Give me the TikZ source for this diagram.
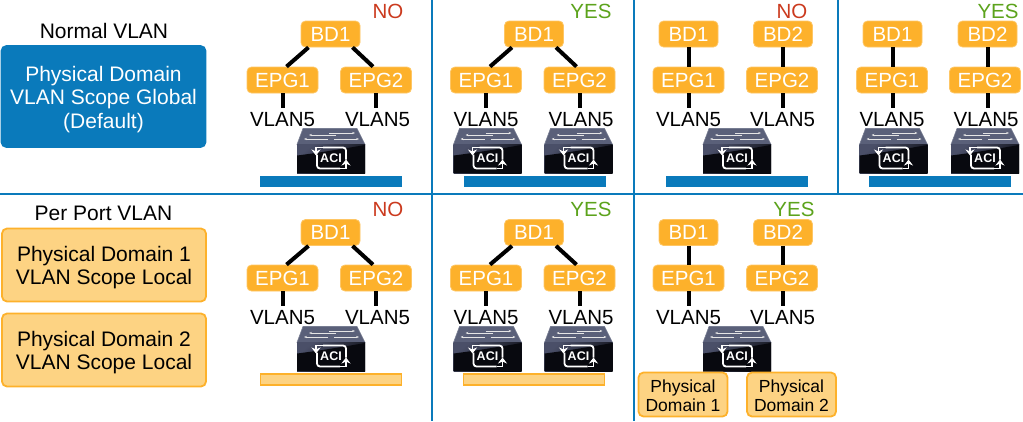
\documentclass[tikz,border=0pt]{standalone}
\usepackage{fontspec}
\setmainfont{Liberation Sans}
\usetikzlibrary{arrows.meta}
\definecolor{ciscoblue}{HTML}{0A7ABB}
\definecolor{epgorange}{HTML}{FDB12B}
\definecolor{epgedge}{HTML}{FEC665}
\definecolor{domfill}{HTML}{FDD383}
\definecolor{noRed}{HTML}{CB3A1E}
\definecolor{yesGreen}{HTML}{5CA31C}
\definecolor{swTop}{HTML}{5A6079}
\definecolor{swTopEdge}{HTML}{777D92}
\definecolor{swFront}{HTML}{4A4F68}
\definecolor{swDark}{HTML}{08090F}
\newcommand{\toppad}[1]{\rule{0pt}{#1}}
\begin{document}
\begin{tikzpicture}[
	x=1pt, y=-1pt,
	txt/.style={font=\fontsize{20.5}{23.5}\selectfont, align=center, inner sep=0pt},
	head/.style={txt, font=\fontsize{21}{23.5}\selectfont},
	epg/.style={txt, text=white, fill=epgorange, draw=epgedge, line width=0.8pt, rounded corners=4.5pt, minimum width=71pt, minimum height=26pt},
	bd/.style={epg, minimum width=59pt},
	vlan/.style={txt, inner sep=4.5pt},
	link/.style={line width=4pt, black},
	nomark/.style={txt, text=noRed},
	yesmark/.style={txt, text=yesGreen},
	grid/.style={draw=ciscoblue, line width=2pt},
	bluebar/.style={fill=ciscoblue, draw=none, inner sep=0pt, minimum width=142pt, minimum height=11pt},
	creambar/.style={fill=domfill, draw=epgorange, line width=1.5pt, inner sep=0pt, minimum width=141pt, minimum height=11pt},
	dombox/.style={head, fill=domfill, draw=epgorange, line width=1.8pt, rounded corners=5pt, minimum width=204pt, minimum height=73pt},
	smalldom/.style={dombox, font=\fontsize{17.5}{19}\selectfont, minimum width=89pt, minimum height=44pt},
	acisw/.pic={
		\fill[swTop, draw=swTopEdge, line width=0.6pt] (-28,0) -- (26,0) -- (34,16) -- (-34,16) -- cycle;
		\shade[left color=swFront, right color=swDark, shading angle=40] (-34,16) rectangle (34,44.5);
		\fill[swDark] (-34,27) .. controls (-10,24) and (14,20) .. (34,16.5) -- (34,44.5) -- (-34,44.5) -- cycle;
		\draw[white!90!black, line width=0.9pt, -{Stealth[length=3pt]}] (-2,4.5) -- (24,4.5);
		\draw[white!90!black, line width=0.9pt, -{Stealth[length=3pt]}] (5,6.5) -- (-22,6.5);
		\draw[white!90!black, line width=0.9pt, -{Stealth[length=3pt]}] (-3,10.5) -- (-27,10.5);
		\draw[white!90!black, line width=0.9pt, -{Stealth[length=3pt]}] (3,10.5) -- (28,10.5);
		\draw[white, line width=1.8pt, rounded corners=3pt] (-14,26) -- (-14,40) -- (9,40) (15,31) -- (15,19) -- (-8,19);
		\draw[white, line width=1.8pt, -{Stealth[length=6pt,width=9pt]}] (-8,19) -- (-15,19) -- (-15,27);
		\draw[white, line width=1.8pt, -{Stealth[length=6pt,width=9pt]}] (9,40) -- (15,40) -- (15,31);
		\node[txt, text=white, font=\fontsize{12.5}{13}\bfseries\selectfont] (-aci) at (0,30) {ACI};
	}
	]
	
	\useasboundingbox (0,0) rectangle (1023,421);
	
	\draw[grid] (0,194) -- (1023,194);
	\draw[grid] (431.5,0) -- (431.5,421);
	\draw[grid] (634,0) -- (634,421);
	\draw[grid] (838,0) -- (838,194);
	
	\node[head] (normal) at (104,31) {Normal VLAN};
	\node[dombox, fill=ciscoblue, draw=ciscoblue, text=white, minimum height=101pt] (global) at (103.5,96.5) {\toppad{21pt}Physical Domain\\VLAN Scope Global\\(Default)};
	\node[head] (perport) at (103.5,213) {Per Port VLAN};
	\node[dombox] (local1) at (104,265) {\toppad{20pt}Physical Domain 1\\VLAN Scope Local};
	\node[dombox] (local2) at (104,350) {\toppad{20pt}Physical Domain 2\\VLAN Scope Local};
	
	\node[nomark] (markA) at (388,11) {NO};
	\node[bd] (bdA) at (330.5,34) {BD1};
	\node[epg] (epgA1) at (282.5,80) {EPG1};
	\node[epg] (epgA2) at (376,80) {EPG2};
	\node[vlan] (vlanA1) at (282.5,119.5) {VLAN5};
	\node[vlan] (vlanA2) at (377.5,119.5) {VLAN5};
	\pic (swA) at (331,128.5) {acisw};
	\node[bluebar] (barA) at (331,181.5) {};
	\draw[link] ([xshift=-22pt]bdA.south) -- ([xshift=4pt]epgA1.north);
	\draw[link] ([xshift=22pt]bdA.south) -- ([xshift=-3pt]epgA2.north);
	\draw[link] (epgA1) -- (vlanA1);
	\draw[link] (epgA2.south) -- (epgA2.south |- vlanA2.north);
	
	\node[yesmark] (markB) at (591,11) {YES};
	\node[bd] (bdB) at (534,34) {BD1};
	\node[epg] (epgB1) at (486,80) {EPG1};
	\node[epg] (epgB2) at (579.5,80) {EPG2};
	\node[vlan] (vlanB1) at (486,119.5) {VLAN5};
	\node[vlan] (vlanB2) at (581,119.5) {VLAN5};
	\pic (swB1) at (487.5,128.5) {acisw};
	\pic (swB2) at (578.5,128.5) {acisw};
	\node[bluebar] (barB) at (534.5,181.5) {};
	\draw[link] ([xshift=-22pt]bdB.south) -- ([xshift=4pt]epgB1.north);
	\draw[link] ([xshift=22pt]bdB.south) -- ([xshift=-3pt]epgB2.north);
	\draw[link] (epgB1) -- (vlanB1);
	\draw[link] (epgB2.south) -- (epgB2.south |- vlanB2.north);
	
	\node[nomark] (markC) at (792,11) {NO};
	\node[bd] (bdC1) at (688.5,34) {BD1};
	\node[bd] (bdC2) at (783,34) {BD2};
	\node[epg] (epgC1) at (688.5,80) {EPG1};
	\node[epg] (epgC2) at (782,80) {EPG2};
	\node[vlan] (vlanC1) at (688.5,119.5) {VLAN5};
	\node[vlan] (vlanC2) at (782.5,119.5) {VLAN5};
	\pic (swC) at (737,128.5) {acisw};
	\node[bluebar] (barC) at (737,181.5) {};
	\draw[link] (bdC1) -- (epgC1);
	\draw[link] (bdC2.south) -- (bdC2.south |- epgC2.north);
	\draw[link] (epgC1) -- (vlanC1);
	\draw[link] (vlanC2.north) -- (vlanC2.north |- epgC2.south);
	
	\node[yesmark] (markD) at (998,11) {YES};
	\node[bd] (bdD1) at (892.5,34) {BD1};
	\node[bd] (bdD2) at (987.5,34) {BD2};
	\node[epg] (epgD1) at (892,80) {EPG1};
	\node[epg] (epgD2) at (985,80) {EPG2};
	\node[vlan] (vlanD1) at (892,119.5) {VLAN5};
	\node[vlan] (vlanD2) at (986,119.5) {VLAN5};
	\pic (swD1) at (893.5,128.5) {acisw};
	\pic (swD2) at (985,128.5) {acisw};
	\node[bluebar] (barD) at (940,181.5) {};
	\draw[link] (bdD1.south) -- (bdD1.south |- epgD1.north);
	\draw[link] (bdD2.south) -- (bdD2.south |- epgD2.north);
	\draw[link] (bdD1.south |- epgD1.south) -- (bdD1.south |- vlanD1.north);
	\draw[link] (bdD2.south |- epgD2.south) -- (bdD2.south |- vlanD2.north);
	
	\node[nomark] (markE) at (388,209) {NO};
	\node[bd] (bdE) at (330.5,232.5) {BD1};
	\node[epg] (epgE1) at (282.5,278) {EPG1};
	\node[epg] (epgE2) at (376,278) {EPG2};
	\node[vlan] (vlanE1) at (282.5,317.5) {VLAN5};
	\node[vlan] (vlanE2) at (377.5,317.5) {VLAN5};
	\pic (swE) at (331,326.5) {acisw};
	\node[creambar] (barE) at (331,379.5) {};
	\draw[link] ([xshift=-22pt]bdE.south) -- ([xshift=4pt]epgE1.north);
	\draw[link] ([xshift=22pt]bdE.south) -- ([xshift=-3pt]epgE2.north);
	\draw[link] (epgE1) -- (vlanE1);
	\draw[link] (epgE2.south) -- (epgE2.south |- vlanE2.north);
	
	\node[yesmark] (markF) at (591,209) {YES};
	\node[bd] (bdF) at (534,232.5) {BD1};
	\node[epg] (epgF1) at (486,278) {EPG1};
	\node[epg] (epgF2) at (579.5,278) {EPG2};
	\node[vlan] (vlanF1) at (486,317.5) {VLAN5};
	\node[vlan] (vlanF2) at (581,317.5) {VLAN5};
	\pic (swF1) at (487.5,326.5) {acisw};
	\pic (swF2) at (578.5,326.5) {acisw};
	\node[creambar] (barF) at (534,379.5) {};
	\draw[link] ([xshift=-22pt]bdF.south) -- ([xshift=4pt]epgF1.north);
	\draw[link] ([xshift=22pt]bdF.south) -- ([xshift=-3pt]epgF2.north);
	\draw[link] (epgF1) -- (vlanF1);
	\draw[link] (epgF2.south) -- (epgF2.south |- vlanF2.north);
	
	\node[yesmark] (markG) at (794,209) {YES};
	\node[bd] (bdG1) at (688.5,232.5) {BD1};
	\node[bd] (bdG2) at (783,232.5) {BD2};
	\node[epg] (epgG1) at (688.5,278) {EPG1};
	\node[epg] (epgG2) at (782,278) {EPG2};
	\node[vlan] (vlanG1) at (688.5,317.5) {VLAN5};
	\node[vlan] (vlanG2) at (782.5,317.5) {VLAN5};
	\pic (swG) at (737,326.5) {acisw};
	\node[smalldom] (domG1) at (683,394.5) {\toppad{15pt}Physical\\Domain 1};
	\node[smalldom] (domG2) at (791.5,394.5) {\toppad{15pt}Physical\\Domain 2};
	\draw[link] (bdG1) -- (epgG1);
	\draw[link] (bdG2.south) -- (bdG2.south |- epgG2.north);
	\draw[link] (epgG1) -- (vlanG1);
	\draw[link] (vlanG2.north) -- (vlanG2.north |- epgG2.south);
	
\end{tikzpicture}
\end{document}
